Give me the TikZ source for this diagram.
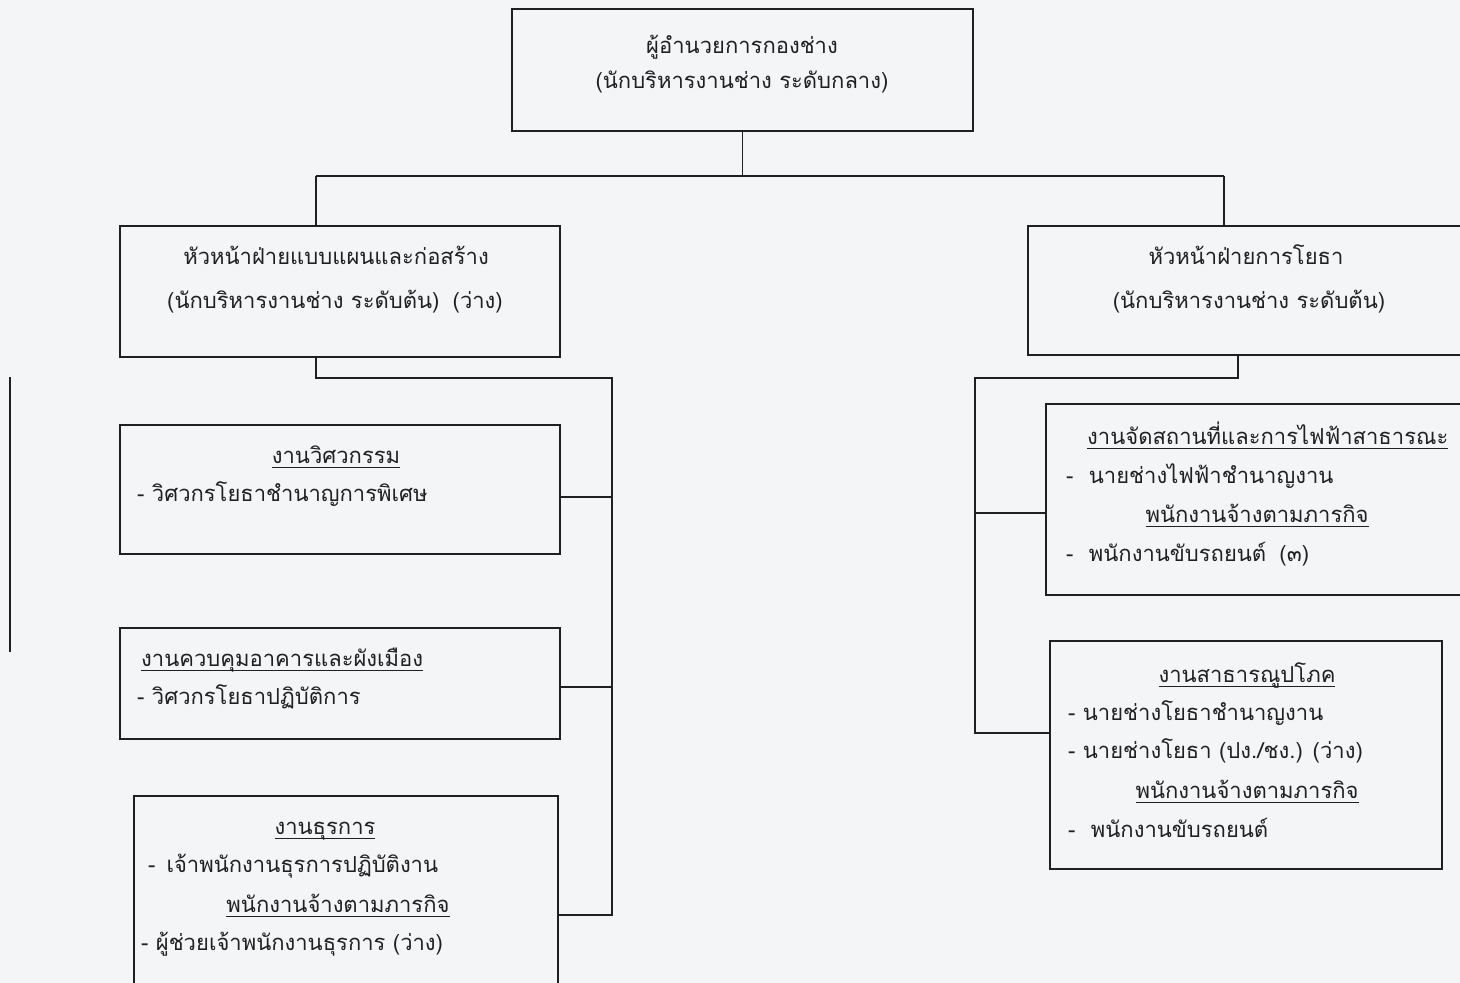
\documentclass[tikz,border=0pt]{standalone}
\usepackage{fontspec}
\newfontfamily\thai[Script=Thai]{Loma}
\definecolor{paper}{RGB}{243,245,246}
\definecolor{ink}{RGB}{32,32,32}
\newcommand{\ulx}[1]{\setbox0\hbox{#1}\rlap{\color{ink}\rule[-5pt]{\wd0}{1.3pt}}\box0}
\begin{document}
\begin{tikzpicture}[x=1pt,y=-1pt,
  box/.style={draw=ink,line width=1.6pt,inner sep=0pt,anchor=north west},
  txt/.style={font=\thai\fontsize{22}{26}\selectfont,text=ink,inner sep=0pt,anchor=mid,yshift=-4pt},
  txtw/.style={txt,anchor=mid west},
  ln/.style={draw=ink,line width=1.6pt}]
\fill[paper] (0,0) rectangle (1460,983);
\useasboundingbox (0,0) rectangle (1460,983);
\clip (0,0) rectangle (1460,983);

% boxes
\node[box,minimum width=461pt,minimum height=122pt] (top) at (511,8) {};
\node[box,minimum width=440pt,minimum height=131pt] (lh) at (119,225) {};
\node[box,minimum width=470pt,minimum height=129pt] (rh) at (1027,225) {};
\node[box,minimum width=440pt,minimum height=129pt] (eng) at (119,424) {};
\node[box,minimum width=440pt,minimum height=111pt] (ctl) at (119,627) {};
\node[box,minimum width=424pt,minimum height=220pt] (adm) at (133,795) {};
\node[box,minimum width=450pt,minimum height=191pt] (ele) at (1045,403) {};
\node[box,minimum width=392pt,minimum height=228pt] (utl) at (1049,640) {};

% texts
\node[txt] (t1) at (742,47) {ผู้อำนวยการกองช่าง};
\node[txt] (t2) at (742,82) {(นักบริหารงานช่าง ระดับกลาง)};
\node[txt] (t3) at (336,258) {หัวหน้าฝ่ายแบบแผนและก่อสร้าง};
\node[txt] (t4) at (335,302) {(นักบริหารงานช่าง ระดับต้น)\hspace{0.6em}(ว่าง)};
\node[txt] (t5) at (1246,258) {หัวหน้าฝ่ายการโยธา};
\node[txt] (t6) at (1249,302) {(นักบริหารงานช่าง ระดับต้น)};
\node[txt] (t7) at (336,457) {\ulx{งานวิศวกรรม}};
\node[txtw] (t8) at (137,495) {- วิศวกรโยธาชำนาญการพิเศษ};
\node[txtw] (t9) at (141,660) {\ulx{งานควบคุมอาคารและผังเมือง}};
\node[txtw] (t10) at (137,698) {- วิศวกรโยธาปฏิบัติการ};
\node[txt] (t11) at (325,828) {\ulx{งานธุรการ}};
\node[txtw] (t12) at (148,866) {-\hspace{0.5em}เจ้าพนักงานธุรการปฏิบัติงาน};
\node[txt] (t13) at (338,906) {\ulx{พนักงานจ้างตามภารกิจ}};
\node[txtw] (t14) at (141,944) {- ผู้ช่วยเจ้าพนักงานธุรการ (ว่าง)};
\node[txtw] (t15) at (1087,438) {\ulx{งานจัดสถานที่และการไฟฟ้าสาธารณะ}};
\node[txtw] (t16) at (1066,477) {-\hspace{0.7em}นายช่างไฟฟ้าชำนาญงาน};
\node[txt] (t17) at (1257,516) {\ulx{พนักงานจ้างตามภารกิจ}};
\node[txtw] (t18) at (1066,555) {-\hspace{0.7em}พนักงานขับรถยนต์\hspace{0.6em}(๓)};
\node[txt] (t19) at (1247,676) {\ulx{งานสาธารณูปโภค}};
\node[txtw] (t20) at (1068,714) {- นายช่างโยธาชำนาญงาน};
\node[txtw] (t21) at (1068,752) {- นายช่างโยธา (ปง./ชง.) (ว่าง)};
\node[txt] (t22) at (1247,792) {\ulx{พนักงานจ้างตามภารกิจ}};
\node[txtw] (t23) at (1068,831) {-\hspace{0.7em}พนักงานขับรถยนต์};

% connector coordinates
\coordinate (busL) at (316,176);
\coordinate (busR) at (1224,176);
\coordinate (lA) at (316,378);
\coordinate (lB) at (612,378);
\coordinate (lC) at (612,915);
\coordinate (yE) at (0,497);
\coordinate (yC) at (0,687);
\coordinate (rA) at (1238,378);
\coordinate (rB) at (975,378);
\coordinate (rC) at (975,733);
\coordinate (yL) at (0,513);
\coordinate (s1) at (10,377);
\coordinate (s2) at (10,652);

% connectors
\draw[ln] (top.south) -- (top.south |- busL);
\draw[ln] (busL) -- (busR);
\draw[ln] (busL) -- (busL |- lh.north);
\draw[ln] (busR) -- (busR |- rh.north);
\draw[ln] (lA |- lh.south) -- (lA) -- (lB) -- (lC) -- (lC -| adm.east);
\draw[ln] (lB |- yE) -- (eng.east |- yE);
\draw[ln] (lB |- yC) -- (ctl.east |- yC);
\draw[ln] (rA |- rh.south) -- (rA) -- (rB) -- (rC) -- (rC -| utl.west);
\draw[ln] (rB |- yL) -- (ele.west |- yL);
\draw[ln] (s1) -- (s2);
\end{tikzpicture}
\end{document}
